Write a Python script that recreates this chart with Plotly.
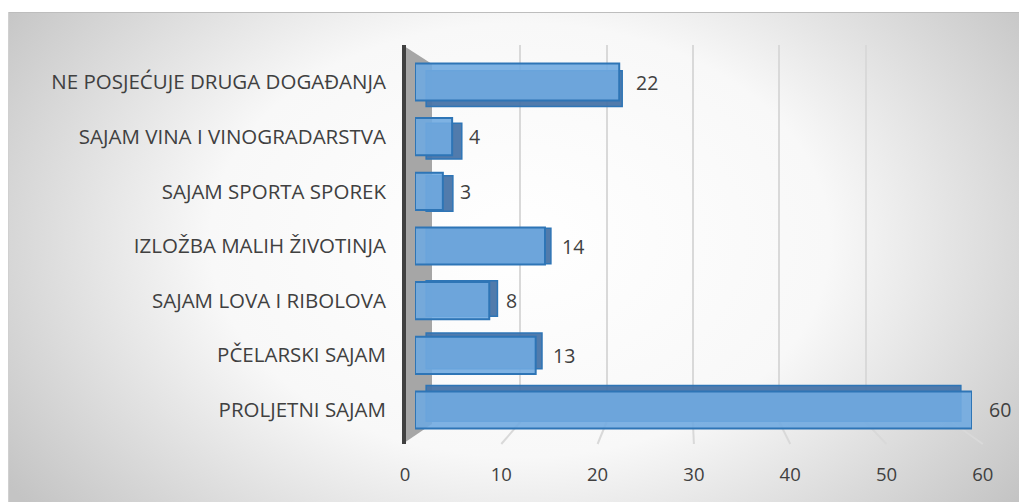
import base64
import plotly.graph_objects as go

# ---- data (bottom-to-top order) ----
categories = [
    "PROLJETNI SAJAM",
    "PČELARSKI SAJAM",
    "SAJAM LOVA I RIBOLOVA",
    "IZLOŽBA MALIH ŽIVOTINJA",
    "SAJAM SPORTA SPOREK",
    "SAJAM VINA I VINOGRADARSTVA",
    "NE POSJEĆUJE DRUGA DOGAĐANJA",
]
values = [60, 13, 8, 14, 3, 4, 22]
tick_values = [0, 10, 20, 30, 40, 50, 60]

W, H = 1019, 502
FONT = "Open Sans"
TXT = "#404040"


def px(x):
    return x / W


def py(y):
    return 1 - y / H


# ---- background: radial gradient frame as SVG image ----
svg = f"""<svg xmlns='http://www.w3.org/2000/svg' width='{W}' height='{H}' viewBox='0 0 {W} {H}' preserveAspectRatio='none'>
<defs>
<radialGradient id='g' gradientUnits='userSpaceOnUse' cx='520' cy='240' r='620' gradientTransform='translate(520 240) scale(1 0.7) translate(-520 -240)'>
<stop offset='0' stop-color='#ffffff'/>
<stop offset='0.5' stop-color='#f8f8f8'/>
<stop offset='1' stop-color='#c4c4c4'/>
</radialGradient>
</defs>
<rect x='0' y='0' width='{W}' height='{H}' fill='#ffffff'/>
<rect x='8' y='12' width='{W-8}' height='{H-12}' fill='url(#g)'/>
<line x1='8' y1='12.5' x2='{W}' y2='12.5' stroke='#bdbdbd' stroke-width='1'/>
<line x1='8.5' y1='12' x2='8.5' y2='{H}' stroke='#d0d0d0' stroke-width='1'/>
</svg>"""
bg_uri = "data:image/svg+xml;base64," + base64.b64encode(svg.encode()).decode()

# ---- perspective helpers for the 3D look (style only) ----
persp_k = 0.04          # back face shrinks toward the view centre
centre_val = 30         # horizontal view centre (axis units)
n = len(categories)
back_base = [centre_val * persp_k] * n
back_len = [v * (1 - persp_k) for v in values]
back_offset = [-0.34 * (1 - persp_k) + (((n - 1) / 2) - i) * 0.04 for i in range(n)]

fig = go.Figure()

# back-wall gridlines subplot (xy, drawn first)
fig.add_trace(go.Scatter(x=[None], y=[None], xaxis="x", yaxis="y", showlegend=False, hoverinfo="skip"))
# tick-label subplot (x2y2)
fig.add_trace(go.Scatter(x=[None], y=[None], xaxis="x2", yaxis="y2", showlegend=False, hoverinfo="skip"))
# bar back faces
fig.add_trace(go.Bar(
    x=back_len, base=back_base, y=categories, orientation="h", xaxis="x3", yaxis="y3",
    offset=back_offset, width=0.68 * (1 - persp_k),
    marker=dict(color="rgba(72,116,168,0.95)", line=dict(color="#2E75B6", width=1.5)),
    showlegend=False, hoverinfo="skip",
))
# bar front faces
fig.add_trace(go.Bar(
    x=values, y=categories, orientation="h", xaxis="x3", yaxis="y3",
    offset=-0.34, width=0.68,
    marker=dict(color="rgba(112,170,224,0.9)", line=dict(color="#2E75B6", width=2)),
    showlegend=False, hoverinfo="skip",
))

# data labels
annotations = []
for c, v in zip(categories, values):
    annotations.append(dict(
        x=v, y=c, xref="x3", yref="y3", text=str(v), showarrow=False,
        xanchor="left", yanchor="middle", xshift=15,
        font=dict(family=FONT, size=19.5, color=TXT),
    ))

# wall & floor lines (decoration)
shapes = []
front0, front_step = 405, 9.63
back0, back_step = 434, 8.63
for t in tick_values[1:]:
    shapes.append(dict(
        type="line", xref="paper", yref="paper", layer="below",
        x0=px(back0 + back_step * t), y0=py(422), x1=px(front0 + front_step * t), y1=py(444),
        line=dict(color="#d9d9d9", width=2),
    ))
wall_path = (f"M {px(404)},{py(46)} L {px(432)},{py(64)} L {px(432)},{py(424)} "
             f"L {px(404)},{py(443)} Z")
shapes.append(dict(type="path", path=wall_path, xref="paper", yref="paper", layer="below",
                   fillcolor="#a6a6a6", line=dict(width=0)))
shapes.append(dict(type="line", xref="paper", yref="paper", layer="below",
                   x0=px(404), y0=py(45), x1=px(404), y1=py(444),
                   line=dict(color="#404040", width=4)))

fig.update_layout(
    width=W, height=H, autosize=False,
    margin=dict(l=0, r=0, t=0, b=0, pad=0),
    paper_bgcolor="white", plot_bgcolor="rgba(0,0,0,0)",
    images=[dict(source=bg_uri, xref="paper", yref="paper", x=0, y=1, sizex=1, sizey=1,
                 xanchor="left", yanchor="top", sizing="stretch", layer="below")],
    shapes=shapes,
    annotations=annotations,
    barmode="overlay",
    showlegend=False,
    # back wall gridlines
    xaxis=dict(domain=[px(back0), px(back0 + back_step * 60)], range=[0, 60], anchor="y",
               tickvals=tick_values[1:], showgrid=True, gridcolor="#d9d9d9", gridwidth=2,
               showticklabels=False, zeroline=False, showline=False, ticks="", automargin=False),
    yaxis=dict(domain=[py(422), py(45)], range=[0, 1], visible=False, showgrid=False, automargin=False),
    # tick labels on the floor front
    xaxis2=dict(domain=[px(front0), px(front0 + front_step * 60)], range=[0, 60], anchor="y2",
                tickvals=tick_values, showgrid=False, zeroline=False, showline=False, ticks="",
                tickfont=dict(family=FONT, size=18.5, color=TXT), automargin=False),
    yaxis2=dict(domain=[py(461), py(452)], range=[0, 1], visible=False, showgrid=False, automargin=False),
    # bars
    xaxis3=dict(domain=[px(415), px(972)], range=[0, 60], anchor="y3", visible=False,
                showgrid=False, zeroline=False, automargin=False),
    yaxis3=dict(domain=[py(437.3), py(54.7)], range=[-0.5, 6.5], anchor="x3",
                categoryorder="array", categoryarray=categories,
                showgrid=False, zeroline=False, showline=False, ticks="",
                ticklabelstandoff=28, automargin=False,
                tickfont=dict(family=FONT, size=20.5, color=TXT)),
)

fig.write_html(
    "out.html",
    config={"displayModeBar": False, "responsive": False},
    post_script="document.body.style.margin='0';document.body.style.overflow='hidden';",
)
